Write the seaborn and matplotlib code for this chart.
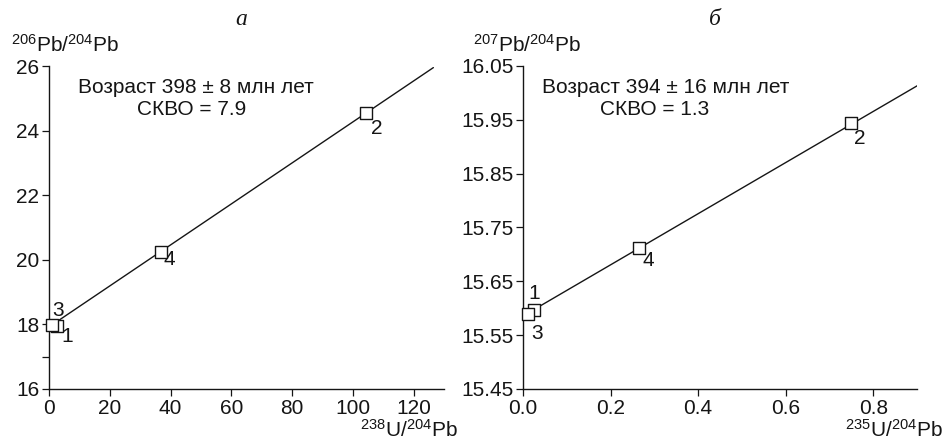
import matplotlib
matplotlib.use("Agg")
import matplotlib.pyplot as plt
import seaborn as sns
import pandas as pd

# ---- data ----
point_labels = ["1", "2", "3", "4"]
u238_pb204 = [2.5, 104.2, 0.9, 36.7]
pb206_pb204 = [17.95, 24.54, 17.98, 20.25]
iso_a_x = [2.5, 126.5]
iso_a_y = [18.08, 25.95]

u235_pb204 = [0.026, 0.75, 0.011, 0.265]
pb207_pb204 = [15.597, 15.944, 15.590, 15.7115]
iso_b_x = [0.026, 0.902]
iso_b_y = [15.598, 16.014]

a_xticks = [0, 20, 40, 60, 80, 100, 120]
a_yticks = [16, 18, 20, 22, 24, 26]
a_yminor = [17]
b_xticks = [0.0, 0.2, 0.4, 0.6, 0.8]
b_yticks = [15.45, 15.55, 15.65, 15.75, 15.85, 15.95, 16.05]

sns.set_style("ticks")
plt.rcParams["font.family"] = ["Liberation Sans", "DejaVu Sans"]
plt.rcParams["mathtext.fontset"] = "custom"
plt.rcParams["mathtext.rm"] = "Liberation Sans"
plt.rcParams["mathtext.it"] = "Liberation Sans:italic"

fig = plt.figure(figsize=(9.43, 4.42), dpi=100)
axA = fig.add_axes([49 / 943, 53 / 442, 395 / 943, 323 / 442])
axB = fig.add_axes([523 / 943, 53 / 442, 394 / 943, 323 / 442])

fs = 15
ink = "#151515"

def panel(ax, x, y, lx, ly, xlim, ylim, xticks, yticks, xfmt, yfmt,
          offsets, title, xlab, ylab, txt1, txt2, tpos, ylabx, xlabx):
    sns.lineplot(x=lx, y=ly, ax=ax, color=ink, linewidth=1.0)
    df = pd.DataFrame({"x": x, "y": y, "lab": point_labels})
    sns.scatterplot(data=df, x="x", y="y", ax=ax, marker="s", s=72,
                    facecolor="white", edgecolor=ink, linewidth=1.0,
                    zorder=5, clip_on=False)
    for (xi, yi, lab), off in zip(zip(x, y, point_labels), offsets):
        ax.annotate(lab, (xi, yi), xytext=off, textcoords="offset pixels",
                    ha="center", va="center", fontsize=fs, color=ink)
    ax.set_xlim(*xlim)
    ax.set_ylim(*ylim)
    ax.set_xticks(xticks)
    ax.set_xticklabels([xfmt.format(v) for v in xticks])
    ax.set_yticks(yticks)
    ax.set_yticklabels([yfmt.format(v) for v in yticks])
    ax.set_xlabel("")
    ax.set_ylabel("")
    sns.despine(ax=ax)
    for s in ["left", "bottom"]:
        ax.spines[s].set_linewidth(1.0)
        ax.spines[s].set_color(ink)
    ax.tick_params(axis="both", direction="out", length=5, width=0.9,
                   labelsize=fs, colors=ink, pad=2)
    ax.text(0.487, 1.145, title, transform=ax.transAxes, ha="center",
            va="center", fontsize=17, family="Liberation Serif",
            style="italic", color=ink)
    ax.text(ylabx, 1.065, ylab, transform=ax.transAxes, ha="left",
            va="center", fontsize=fs, color=ink)
    ax.text(xlabx, -0.128, xlab, transform=ax.transAxes, ha="right",
            va="center", fontsize=fs, color=ink)
    ax.text(tpos[0], 0.932, txt1, transform=ax.transAxes, ha="center",
            va="center", fontsize=fs, color=ink)
    ax.text(tpos[1], 0.864, txt2, transform=ax.transAxes, ha="center",
            va="center", fontsize=fs, color=ink)

panel(axA, u238_pb204, pb206_pb204, iso_a_x, iso_a_y, (0, 130), (16, 26),
      a_xticks, a_yticks, "{:d}", "{:d}",
      [(11, -10), (11, -15), (6, 15), (9, -8)], "а",
      r"$^{206}$Pb/$^{204}$Pb" if False else r"$^{238}$U/$^{204}$Pb",
      r"$^{206}$Pb/$^{204}$Pb",
      "Возраст 398 ± 8 млн лет", "СКВО = 7.9", (0.372, 0.36), -0.095, 1.035)
axA.set_yticks(a_yminor, minor=True)
axA.tick_params(axis="y", which="minor", direction="out", length=5, width=0.9,
                colors=ink)

panel(axB, u235_pb204, pb207_pb204, iso_b_x, iso_b_y, (0, 0.9), (15.45, 16.05),
      b_xticks, b_yticks, "{:.1f}", "{:.2f}",
      [(9, -15), (8, -15), (9, -20), (9, -12)], "б",
      r"$^{235}$U/$^{204}$Pb", r"$^{207}$Pb/$^{204}$Pb",
      "Возраст 394 ± 16 млн лет", "СКВО = 1.3", (0.363, 0.335), -0.128, 1.066)
# point 1 label in panel b sits above its marker
axB.texts[0].xyann = (0, 16)

fig.savefig("out.png", dpi=100)
